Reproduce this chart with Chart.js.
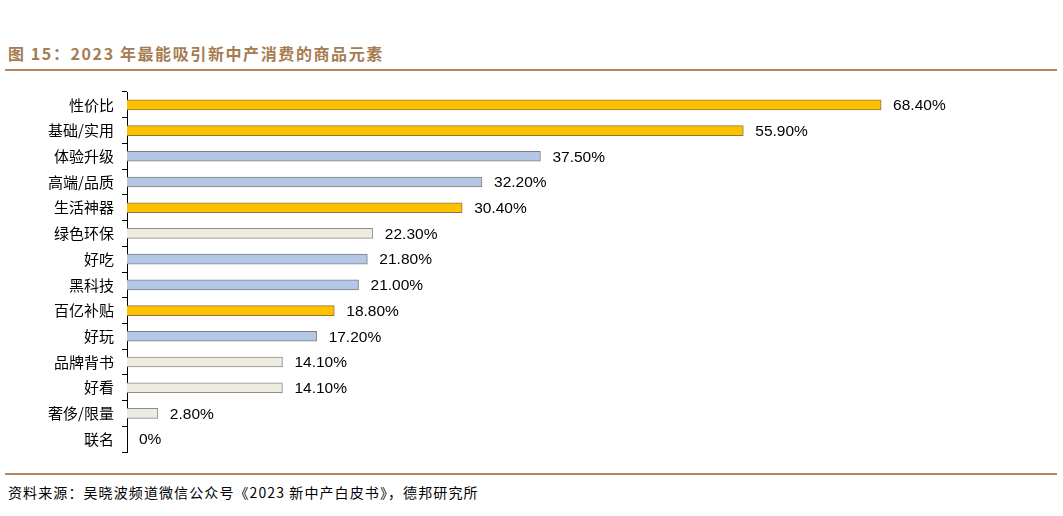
<!DOCTYPE html>
<html>
<head>
<meta charset="utf-8">
<script src="https://cdn.jsdelivr.net/npm/chart.js@4/dist/chart.umd.min.js"></script>
<style>
  body { margin: 0; background: #fff; width: 1063px; height: 516px; position: relative; overflow: hidden; }
  #title { position: absolute; left: 8px; top: 41px; font: bold 16px "Noto Sans CJK SC", "Liberation Sans", sans-serif; color: #A67C52; letter-spacing: 1.6px; }
  .rule { position: absolute; left: 5px; width: 1052px; height: 2px; background: #B08560; }
  #foot { position: absolute; left: 8px; top: 482px; font: 14px "Noto Sans CJK SC", "Liberation Sans", sans-serif; color: #000; letter-spacing: 1.1px; }
  #wrap { position: absolute; left: 0; top: 85px; width: 1063px; height: 380px; }
</style>
</head>
<body>
<div id="title">图 15：2023 年最能吸引新中产消费的商品元素</div>
<div class="rule" style="top:69px"></div>
<div id="wrap"><canvas id="c"></canvas></div>
<div class="rule" style="top:473px"></div>
<div id="foot">资料来源：吴晓波频道微信公众号《2023 新中产白皮书》，德邦研究所</div>
<script>
let categories = ['性价比', '基础/实用', '体验升级', '高端/品质', '生活神器', '绿色环保', '好吃', '黑科技', '百亿补贴', '好玩', '品牌背书', '好看', '奢侈/限量', '联名']
let values = [68.4, 55.9, 37.5, 32.2, 30.4, 22.3, 21.8, 21.0, 18.8, 17.2, 14.1, 14.1, 2.8, 0]
let groups = ['gold', 'gold', 'blue', 'blue', 'gold', 'beige', 'blue', 'blue', 'gold', 'blue', 'beige', 'beige', 'beige', 'beige']

let fills = { gold: '#FFC000', blue: '#B4C7E7', beige: '#EEECE1' }
let borders = { gold: '#8C7A3C', blue: '#7F7F7F', beige: '#8C8C8C' }

let valueLabels = {
    id: 'valueLabels',
    afterDatasetsDraw(chart) {
        let ctx = chart.ctx
        let meta = chart.getDatasetMeta(0)
        ctx.save()
        ctx.font = '15.5px "Liberation Sans", Arial, sans-serif'
        ctx.fillStyle = '#000'
        ctx.textBaseline = 'middle'
        meta.data.forEach((bar, i) => {
            let v = values[i]
            let txt = v === 0 ? '0%' : v.toFixed(2) + '%'
            ctx.fillText(txt, bar.x + 12, bar.y + 1)
        })
        ctx.restore()
    }
}

new Chart(document.getElementById('c').getContext('2d'), {
    type: 'bar',
    data: {
        labels: categories,
        datasets: [{
            data: values,
            backgroundColor: groups.map(g => fills[g]),
            borderColor: groups.map(g => borders[g]),
            borderWidth: 1,
            barThickness: 10
        }]
    },
    options: {
        indexAxis: 'y',
        responsive: true,
        maintainAspectRatio: false,
        animation: false,
        layout: { padding: { top: 7, bottom: 13, left: 0, right: 54 } },
        plugins: { legend: { display: false }, tooltip: { enabled: false } },
        scales: {
            x: { display: false, min: 0, max: 80 },
            y: {
                afterFit(scale) {
                    scale.width = 127
                    scale.paddingTop = 0
                    scale.paddingBottom = 0
                },
                border: { display: true, color: '#000', width: 1 },
                grid: { offset: true, drawOnChartArea: false, drawTicks: true, tickLength: 5, color: '#000' },
                ticks: {
                    padding: 8,
                    color: '#000',
                    font: { family: '"Noto Sans CJK SC", sans-serif', size: 15 }
                }
            }
        }
    },
    plugins: [valueLabels]
})
</script>
</body>
</html>
